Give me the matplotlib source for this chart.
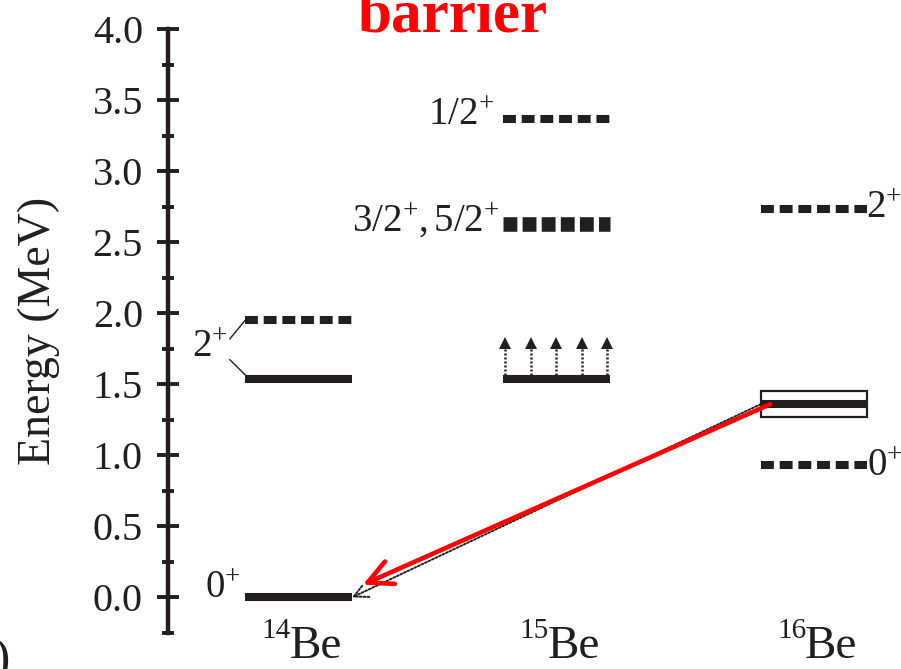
import matplotlib.pyplot as plt
from matplotlib.patches import Rectangle
import numpy as np

plt.rcParams['font.family'] = ['Liberation Serif', 'DejaVu Serif']
plt.rcParams['mathtext.fontset'] = 'custom'
plt.rcParams['mathtext.rm'] = 'Liberation Serif'
plt.rcParams['mathtext.it'] = 'Liberation Serif:italic'

ink = '#231f20'

# nuclei along the x axis
nuclei = ['14', '15', '16']
nucleus_x = [1, 2, 3]
half_w = 0.207

# level energies (MeV)
be14_levels = [0.0, 1.54, 1.95]
be14_styles = ['solid', 'solid', 'dashed']
be15_levels = [1.54, 2.63, 3.37]
be15_styles = ['solid', 'squares', 'dashed']
be16_levels = [0.93, 1.36, 2.73]
be16_styles = ['dashed', 'solid', 'dashed']
be16_err = 0.09
arrow_top = 1.83

dash = (0, (1.6, 0.72))
square = (0, (0.95, 0.36))

fig = plt.figure(figsize=(9.01, 6.69), dpi=100)
ax = fig.add_axes([168 / 901, 36 / 669, 733 / 901, 604 / 669])
ax.set_xlim(0.494, 3.337)
ax.set_ylim(-0.25, 4.0)


def draw_level(x, e, style):
    xs = [x - half_w, x + half_w]
    if style == 'solid':
        ax.plot(xs, [e, e], color=ink, lw=5.8, solid_capstyle='butt')
    elif style == 'dashed':
        ax.plot(xs, [e, e], color=ink, lw=5.8, linestyle=dash)
    else:
        ax.plot(xs, [e, e], color=ink, lw=10.5, linestyle=square)


for x, levels, styles in [(1, be14_levels, be14_styles),
                          (2, be15_levels, be15_styles),
                          (3, be16_levels, be16_styles)]:
    for e, s in zip(levels, styles):
        draw_level(x, e, s)

# open box around the 16Be ground state
ax.add_patch(Rectangle((3 - half_w, be16_levels[1] - be16_err), 2 * half_w,
                       2 * be16_err, fill=False, edgecolor=ink, lw=1.6))

# dotted arrows above the 15Be level (unbound)
for xa in np.linspace(2 - half_w + 0.01, 2 + half_w - 0.01, 5):
    ax.plot([xa, xa], [be15_levels[0], arrow_top - 0.06], color=ink, lw=1.8,
            linestyle=(0, (0.8, 0.8)))
    ax.plot(xa, arrow_top - 0.04, marker='^', color=ink, markersize=9,
            markeredgewidth=0)

# decay path 16Be -> 14Be
ax.annotate('', xy=(1 + half_w, be14_levels[0]),
            xytext=(3 - half_w, be16_levels[1]),
            arrowprops=dict(arrowstyle='->,head_length=0.5,head_width=0.25',
                            color=ink, lw=1.4, linestyle=(0, (1, 1)),
                            shrinkA=0, shrinkB=0, mutation_scale=20))
ax.annotate('', xy=(1.25, 0.09), xytext=(2.83, 1.36),
            arrowprops=dict(arrowstyle='->,head_length=0.8,head_width=0.4',
                            color='red', lw=3.3, shrinkA=0, shrinkB=0,
                            mutation_scale=22), zorder=5)

# 14Be 2+ connector strokes
ax.plot([0.734, 0.80], [1.82, 1.965], color=ink, lw=1.0)
ax.plot([0.734, 0.80], [1.673, 1.554], color=ink, lw=1.0)

# spin-parity labels
lab = dict(fontsize=28, color=ink)
ax.text(0.775, 0.06, '$0^{+}$', ha='right', va='center', **lab)
ax.text(0.725, 1.76, '$2^{+}$', ha='right', va='center', **lab)
ax.text(1.76, 3.39, '$1/2^{+}$', ha='right', va='center', **lab)
ax.text(1.78, 2.65, '$3/2^{+}, 5/2^{+}$', ha='right', va='center', **lab)
ax.text(3.2, 2.74, '$2^{+}$', ha='left', va='center', **lab)
ax.text(3.205, 0.92, '$0^{+}$', ha='left', va='center', **lab)

# nucleus names: raised mass number, large element symbol
for x, mass in zip(nucleus_x, nuclei):
    ax.text(x - 0.03, -0.285, mass, ha='right', va='baseline', fontsize=21,
            color=ink, clip_on=False)
    ax.text(x - 0.035, -0.425, 'Be', ha='left', va='baseline', fontsize=34,
            color=ink, clip_on=False)

# axis styling
for side in ['top', 'right', 'bottom']:
    ax.spines[side].set_visible(False)
ax.spines['left'].set_linewidth(3.2)
ax.spines['left'].set_color(ink)
ax.set_xticks([])
ax.set_yticks(np.arange(0, 4.01, 0.5))
ax.set_yticklabels([f'{v:.1f}' for v in np.arange(0, 4.01, 0.5)])
ax.set_yticks(np.arange(-0.25, 4.0, 0.25), minor=True)
ax.tick_params(axis='y', which='major', direction='inout', length=16,
               width=2.8, pad=10, labelsize=29, colors=ink)
ax.tick_params(axis='y', which='minor', direction='inout', length=8,
               width=2.8, colors=ink)
ax.set_ylabel('Energy (MeV)', fontsize=33, color=ink)
ax.yaxis.set_label_coords(-0.147, 0.5)

fig.text(452 / 901, 1 - 32 / 669, 'barrier', ha='center', va='baseline',
         fontsize=44, fontweight='bold', color='red')
fig.text(11 / 901, 1 - 673 / 669, '(b)', ha='right', va='baseline',
         fontsize=36, color=ink)

fig.savefig('out.png', dpi=100)
